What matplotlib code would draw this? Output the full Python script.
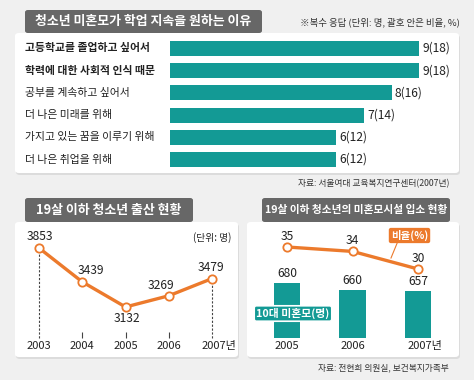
import matplotlib
matplotlib.use('Agg')
import matplotlib.pyplot as plt
from matplotlib.patches import FancyBboxPatch
from matplotlib.transforms import blended_transform_factory

plt.rcParams['font.family'] = ['Noto Sans CJK KR', 'DejaVu Sans']

# ---- data ----
reasons = ['고등학교를 졸업하고 싶어서', '학력에 대한 사회적 인식 때문', '공부를 계속하고 싶어서',
           '더 나은 미래를 위해', '가지고 있는 꿈을 이루기 위해', '더 나은 취업을 위해']
counts = [9, 9, 8, 7, 6, 6]
shares = [18, 18, 16, 14, 12, 12]

birth_years = [2003, 2004, 2005, 2006, 2007]
births = [3853, 3439, 3132, 3269, 3479]

shelter_years = ['2005', '2006', '2007년']
mothers = [680, 660, 657]
ratio = [35, 34, 30]

teal = '#139a95'
orange = '#ec7a2c'
gray_box = '#676767'
bg = '#f0f0f0'

W, H = 474, 380
fig = plt.figure(figsize=(W / 100, H / 100), dpi=100)
fig.patch.set_facecolor(bg)


def fx(px):
    return px / W


def fy(py):
    return 1 - py / H


def rect(x0, y0, x1, y1):
    # pixel box (top-left origin) -> figure rect
    return [fx(x0), fy(y1), fx(x1 - x0), (y1 - y0) / H]


def panel(x0, y0, x1, y1):
    sh = FancyBboxPatch((fx(x0 + 1), fy(y1 + 2)), fx(x1 - x0), (y1 - y0) / H,
                        boxstyle='round,pad=0,rounding_size=0.008',
                        transform=fig.transFigure, facecolor='#dcdcdc', edgecolor='none', zorder=0)
    p = FancyBboxPatch((fx(x0), fy(y1)), fx(x1 - x0), (y1 - y0) / H,
                       boxstyle='round,pad=0,rounding_size=0.008',
                       transform=fig.transFigure, facecolor='white', edgecolor='none', zorder=0.5)
    fig.patches.extend([sh, p])


def title_box(x0, y0, x1, y1, text, size=9.3):
    r = FancyBboxPatch((fx(x0), fy(y1)), fx(x1 - x0), (y1 - y0) / H,
                       boxstyle='round,pad=0,rounding_size=0.006',
                       transform=fig.transFigure, facecolor=gray_box, edgecolor='none', zorder=1)
    fig.patches.append(r)
    fig.text(fx((x0 + x1) / 2), fy((y0 + y1) / 2), text, color='white', fontsize=size,
             fontweight='bold', ha='center', va='center', zorder=2)


# ---- top panel: reasons ----
panel(15, 33, 459, 173)
title_box(25, 10, 262, 33, '청소년 미혼모가 학업 지속을 원하는 이유')
fig.text(fx(460), fy(22), '※복수 응답 (단위: 명, 괄호 안은 비율, %)', fontsize=6.8,
         color='#333333', ha='right', va='center')

ax1 = fig.add_axes(rect(170, 37.4, 459, 170.6))
ax1.set_zorder(3)
ax1.set_xlim(0, 289 / 27.7)
ax1.set_ylim(5.5, -0.5)
ax1.axis('off')
ypos = list(range(len(reasons)))
ax1.barh(ypos, counts, height=0.68, color=teal)
bt1 = blended_transform_factory(fig.transFigure, ax1.transData)
for i, (lab, c, s) in enumerate(zip(reasons, counts, shares)):
    ax1.text(c + 0.12, i, f'{c}({s})', fontsize=8.7, va='center', ha='left', color='#222222')
    ax1.text(fx(25), i, lab, transform=bt1, fontsize=7.8, va='center', ha='left',
             color='#222222', fontweight='bold' if i < 2 else 'normal')
fig.text(fx(449), fy(184), '자료: 서울여대 교육복지연구센터(2007년)', fontsize=6.3,
         color='#333333', ha='right', va='center')

# ---- bottom left: births ----
panel(15, 222, 238, 357)
title_box(25, 198, 193, 222, '19살 이하 청소년 출산 현황')

ax2 = fig.add_axes(rect(15, 222, 238, 357))
ax2.set_zorder(3)
ax2.patch.set_alpha(0)
ax2.set_xlim(2003 - 24 / 43.25, 2007 + 26 / 43.25)
ax2.set_ylim(3853 - 109 / 0.0818, 3853 + 26 / 0.0818)
ax2.axis('off')
base = 3853 - 90 / 0.0818
tick_top = 3853 - 84 / 0.0818
ax2.vlines([birth_years[0], birth_years[-1]], base, [births[0], births[-1]],
           colors='#444444', linestyles=(0, (2, 1.5)), linewidth=0.8, zorder=1)
ax2.vlines(birth_years[1:4], base, tick_top, colors='#444444', linewidth=0.8, zorder=1)
ax2.plot(birth_years, births, color=orange, linewidth=2.4, marker='o', markersize=6,
         markerfacecolor='white', markeredgecolor=orange, markeredgewidth=1.3, zorder=3)
offsets = [(0.5, 11), (9, 11), (1, -12), (-8, 10), (-1, 11)]
for yr, v, (dx, dy) in zip(birth_years, births, offsets):
    ax2.annotate(f'{v}', (yr, v), xytext=(dx * 0.72, dy * 0.72), textcoords='offset points',
                 ha='center', va='center', fontsize=8.7, color='#222222')
bt2 = blended_transform_factory(ax2.transData, fig.transFigure)
for yr in birth_years:
    lab = f'{yr}년' if yr == birth_years[-1] else f'{yr}'
    dx = 0.17 if yr == birth_years[-1] else 0
    ax2.text(yr + dx, fy(346), lab, transform=bt2, ha='center', va='center', fontsize=8,
             color='#222222')
ax2.text(fx(212), fy(238), '(단위: 명)', transform=fig.transFigure, fontsize=7,
         ha='center', va='center', color='#222222')

# ---- bottom right: shelter ----
panel(247, 222, 459, 357)
title_box(262, 198, 450, 222, '19살 이하 청소년의 미혼모시설 입소 현황', size=7.7)

xs = [0, 1, 2]
ax3 = fig.add_axes(rect(247, 222, 459, 338))
ax3.set_zorder(3)
ax3.patch.set_alpha(0)
ax3.set_xlim(-40 / 65.5, 2 + 41 / 65.5)
ax3.set_ylim(523, 523 + 116 / 0.35)
ax3.axis('off')
ax3.bar(xs, mothers, width=0.4, color=teal, zorder=1)
for x, v in zip(xs, mothers):
    ax3.annotate(f'{v}', (x, v), xytext=(0, 7), textcoords='offset points', ha='center',
                 va='center', fontsize=8.7, color='#222222')
bt3 = blended_transform_factory(ax3.transData, fig.transFigure)
for x, lab in zip(xs, shelter_years):
    ax3.text(x + (0.1 if lab.endswith('년') else 0), fy(346), lab, transform=bt3,
             ha='center', va='center', fontsize=8, color='#222222')
ax3.text(fx(293), fy(313.5), '10대 미혼모(명)', transform=fig.transFigure, fontsize=7.8,
         fontweight='bold', color='white', ha='center', va='center', zorder=5,
         bbox=dict(boxstyle='round,pad=0.2,rounding_size=0.2', facecolor=teal,
                   edgecolor='white', linewidth=1.2))

ax4 = fig.add_axes(rect(247, 222, 459, 338))
ax4.set_zorder(4)
ax4.patch.set_alpha(0)
ax4.set_xlim(ax3.get_xlim())
ax4.set_ylim(35 - 91 / 4.4, 35 + 25 / 4.4)
ax4.axis('off')
ax4.plot(xs, ratio, color=orange, linewidth=2.4, marker='o', markersize=6,
         markerfacecolor='white', markeredgecolor=orange, markeredgewidth=1.3, zorder=3)
for x, v in zip(xs, ratio):
    ax4.annotate(f'{v}', (x, v), xytext=(0, 7.5), textcoords='offset points', ha='center',
                 va='center', fontsize=8.7, color='#222222')

# callout label for the line
ax4.plot([fx(398), fx(391)], [fy(241), fy(258)], color=orange, linewidth=0.8,
         transform=fig.transFigure, clip_on=False)
ax4.text(fx(409.5), fy(235.5), '비율(%)', transform=fig.transFigure, fontsize=7.5,
         fontweight='bold', color='white', ha='center', va='center',
         bbox=dict(boxstyle='round,pad=0.2,rounding_size=0.2', facecolor=orange, edgecolor='none'))
fig.text(fx(449), fy(368), '자료: 전현희 의원실, 보건복지가족부', fontsize=6.3,
         color='#333333', ha='right', va='center')

fig.savefig('out.png', dpi=100, facecolor=bg)
